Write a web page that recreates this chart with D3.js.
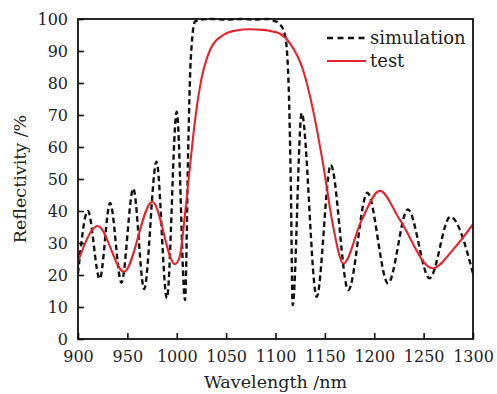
<!DOCTYPE html>
<html>
<head>
<meta charset="utf-8">
<script src="https://cdn.jsdelivr.net/npm/d3@7"></script>
<style>
  html, body { margin: 0; padding: 0; background: #fff; }
  svg text { font-family: "DejaVu Serif", serif; fill: #222; }
</style>
</head>
<body>
<div id="chart"></div>
<script>
"use strict";

// data
var simWavelength = [900, 910, 922, 932.5, 944, 956, 967, 979.5, 990, 1000, 1008.4,
                     1011.7, 1014.1, 1018.5, 1024, 1035, 1050, 1065, 1080, 1092, 1098,
                     1104, 1109.6, 1113, 1115.4, 1117.4, 1126.5, 1141.7, 1156, 1173.7,
                     1193, 1214, 1234, 1256, 1277, 1300];
var simReflect    = [20.5, 40, 18.8, 42.5, 17.6, 47, 15.6, 55.4, 12.8, 71, 12.2,
                     61, 87, 99.2, 99.8, 100, 99.8, 100, 99.8, 100, 99.5,
                     98.5, 95, 82, 50.7, 10.6, 70.6, 13.2, 54.4, 15.3,
                     45.7, 17.4, 40.5, 19, 38.2, 20.5];

var testWavelength = [900, 920, 946.6, 975.3, 998.2, 1003, 1008, 1013.4, 1018, 1023.5,
                      1033.7, 1047, 1060, 1074, 1088, 1097, 1104.6, 1114.7, 1128, 1138,
                      1148, 1158.5, 1168.7, 1187, 1205.8, 1226, 1259.2, 1280, 1300];
var testReflect    = [24.2, 35.3, 21, 42.9, 23.4, 25.7, 38, 53.9, 67, 78.8,
                       90.3, 95, 96.4, 96.8, 96.6, 96.1, 95.4, 92.4, 84, 71.6,
                       55, 35, 23.6, 37, 46.3, 37.2, 22.1, 28, 35.9];

var xTicks = [900, 950, 1000, 1050, 1100, 1150, 1200, 1250, 1300];
var yTicks = [0, 10, 20, 30, 40, 50, 60, 70, 80, 90, 100];
var seriesNames = ["simulation", "test"];

var width = 497, height = 394;
var margin = {top: 19, right: 24, bottom: 55, left: 78};

var svg = d3.select("#chart").append("svg")
    .attr("width", width)
    .attr("height", height);

var x = d3.scaleLinear().domain([900, 1300]).range([margin.left, width - margin.right]);
var y = d3.scaleLinear().domain([0, 100]).range([height - margin.bottom, margin.top]);

var plot = svg.append("g");

// clip so the curve never runs out of the frame
svg.append("clipPath").attr("id", "clip")
    .append("rect")
    .attr("x", x(900)).attr("y", y(100) - 2)
    .attr("width", x(1300) - x(900)).attr("height", y(0) - y(100) + 2);

function toPoints(xs, ys) {
    return xs.map(function(d, i) { return [d, ys[i]]; });
}

var line = d3.line()
    .x(function(d) { return x(d[0]); })
    .y(function(d) { return y(d[1]); })
    .curve(d3.curveMonotoneX);

plot.append("path")
    .datum(toPoints(simWavelength, simReflect))
    .attr("clip-path", "url(#clip)")
    .attr("d", line)
    .style("fill", "none")
    .style("stroke", "#111")
    .style("stroke-width", 2.4)
    .style("stroke-dasharray", "5.5,3.5");

plot.append("path")
    .datum(toPoints(testWavelength, testReflect))
    .attr("clip-path", "url(#clip)")
    .attr("d", line)
    .style("fill", "none")
    .style("stroke", "#e3242b")
    .style("stroke-width", 2.1);

// axes, ticks pointing inwards
var fmt = d3.format("d");

var xAxis = svg.append("g")
    .attr("transform", "translate(0," + y(0) + ")")
    .call(d3.axisBottom(x).tickValues(xTicks).tickFormat(fmt)
        .tickSizeInner(-6).tickSizeOuter(0).tickPadding(12));

var yAxis = svg.append("g")
    .attr("transform", "translate(" + x(900) + ",0)")
    .call(d3.axisLeft(y).tickValues(yTicks).tickFormat(fmt)
        .tickSizeInner(-6).tickSizeOuter(0).tickPadding(10));

[xAxis, yAxis].forEach(function(ax) {
    ax.select(".domain").remove();
    ax.selectAll(".tick line").style("stroke", "#111").style("stroke-width", 1.6);
    ax.selectAll(".tick text")
        .style("font-size", "16px")
        .style("font-family", "DejaVu Serif, serif")
        .style("fill", "#222");
});

// frame
svg.append("rect")
    .attr("x", x(900)).attr("y", y(100))
    .attr("width", x(1300) - x(900)).attr("height", y(0) - y(100))
    .style("fill", "none")
    .style("stroke", "#111")
    .style("stroke-width", 1.8);

// axis titles
svg.append("text")
    .attr("x", (x(900) + x(1300)) / 2)
    .attr("y", 388)
    .attr("text-anchor", "middle")
    .style("font-size", "17.5px")
    .text("Wavelength /nm");

svg.append("text")
    .attr("transform", "translate(26," + ((y(0) + y(100)) / 2) + ") rotate(-90)")
    .attr("text-anchor", "middle")
    .style("font-size", "17.5px")
    .text("Reflectivity /%");

// legend
var legend = svg.append("g");
seriesNames.forEach(function(name, i) {
    var ly = 38 + i * 23;
    legend.append("line")
        .attr("x1", 327).attr("x2", 366)
        .attr("y1", ly).attr("y2", ly)
        .style("stroke", i === 0 ? "#111" : "#e3242b")
        .style("stroke-width", i === 0 ? 2.4 : 2.1)
        .style("stroke-dasharray", i === 0 ? "6,4.5" : null);
    legend.append("text")
        .attr("x", 370)
        .attr("y", ly + 6)
        .style("font-size", "18px")
        .text(name);
});
</script>
</body>
</html>
